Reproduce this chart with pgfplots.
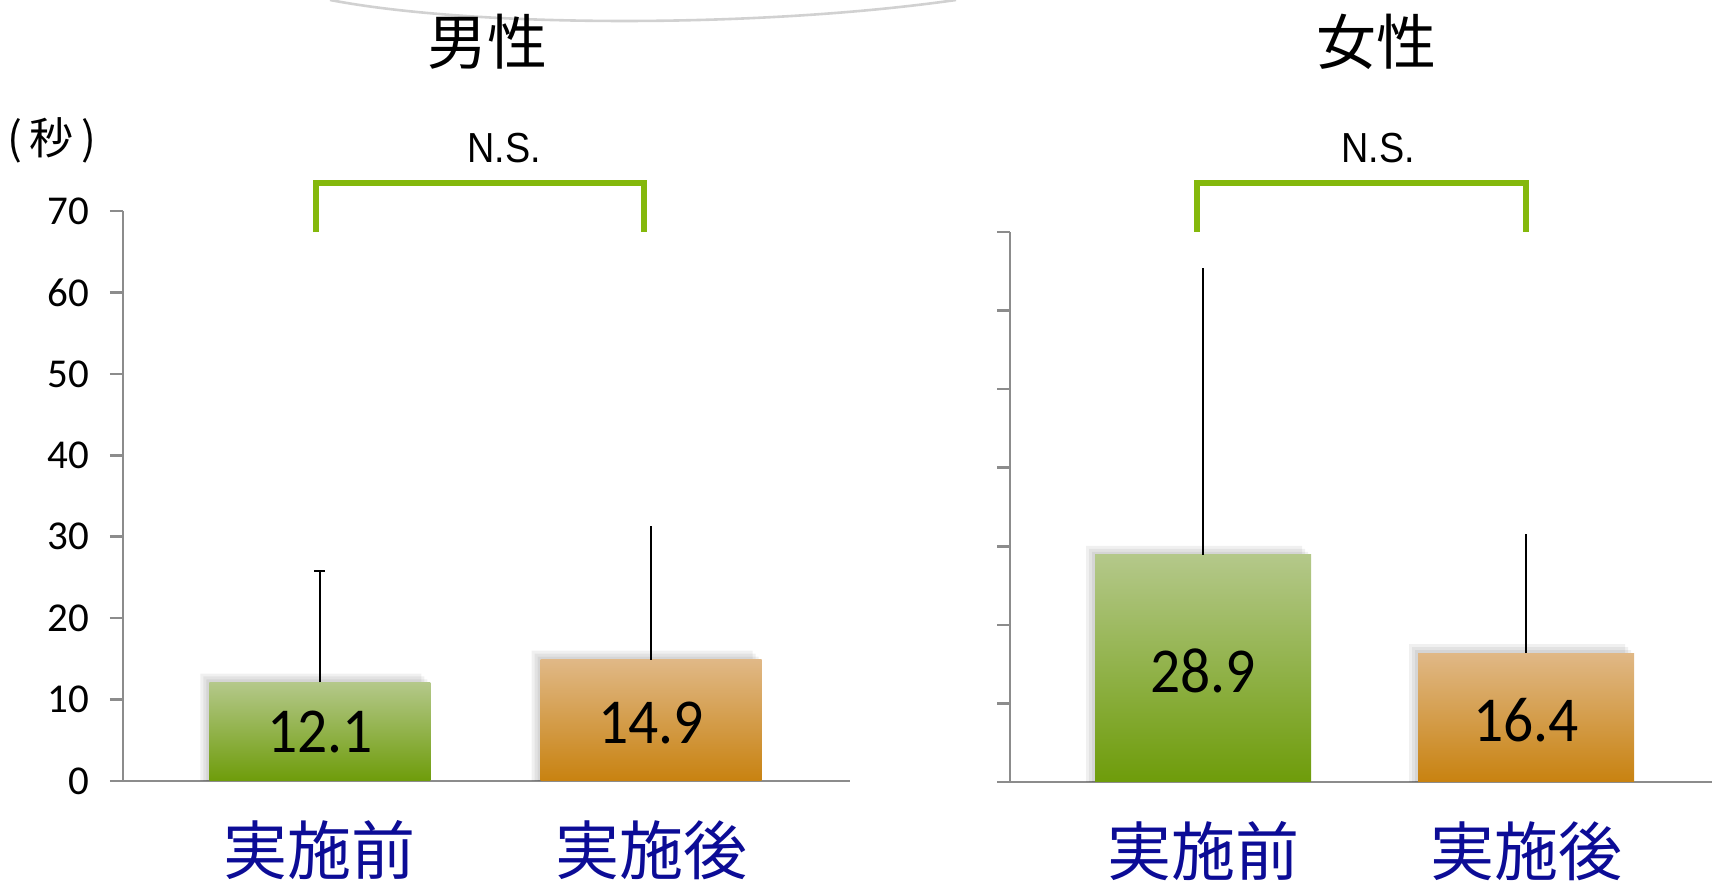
\documentclass[border=0pt]{standalone}
\usepackage{pgfplots}
\pgfplotsset{compat=1.18}
\usepackage{fontspec}
\setmainfont{Carlito}
\newfontfamily\jp{Noto Sans CJK JP}
\newfontfamily\jpp{Noto Sans CJK JP}[CharacterWidth=Proportional]
\newfontfamily\ns{Liberation Sans}[FakeStretch=0.9]
\newfontfamily\vals{Carlito}[FakeStretch=0.93]
\definecolor{gtop}{RGB}{180,200,138}
\definecolor{gbot}{RGB}{110,156,10}
\definecolor{otop}{RGB}{224,184,134}
\definecolor{obot}{RGB}{200,130,16}
\definecolor{brk}{RGB}{132,184,12}
\definecolor{axgray}{RGB}{140,140,140}
\definecolor{navy}{RGB}{12,12,150}
\pgfplotsset{mystyle/.style={
  scale only axis, clip=false,
  axis x line*=bottom, axis y line*=left,
  ymin=0, ymax=70, ytick={0,10,...,70},
  xtick={0,1}, xticklabels={実施前,実施後},
  x tick style={draw=none},
  ytick align=outside, major tick length=6.5pt,
  axis line style={axgray, line width=1.35pt},
  y tick style={axgray, line width=1.35pt},
  /pgf/number format/assume math mode=true,
  yticklabel style={font=\fontsize{20.5}{24}\selectfont, anchor=east, xshift=-7pt},
  xticklabel style={font=\jp\fontsize{32}{38}\selectfont, text=navy, anchor=center, yshift=-34.5pt},
}}
\begin{document}
\begin{tikzpicture}
\path[use as bounding box] (0,0) rectangle (862.5pt,441pt);
% faint decorative arc
\draw[black!18, line width=1.3pt] (165pt,441pt) .. controls (238pt,427pt) and (380pt,427pt) .. (478pt,441pt);

\begin{axis}[mystyle, at={(61.5pt,50.5pt)}, anchor=south west,
  width=363.5pt, height=285pt, xmin=-0.595, xmax=1.601]
% soft shadow layers
\addplot[ybar, bar width=110.5pt, bar shift=-4.5pt, draw=none, fill=black, fill opacity=0.06, forget plot] coordinates {(0,13.2) (1,16.0)};
\addplot[ybar, bar width=110.5pt, bar shift=-3pt, draw=none, fill=black, fill opacity=0.06, forget plot] coordinates {(0,12.84) (1,15.64)};
\addplot[ybar, bar width=110.5pt, bar shift=-1.5pt, draw=none, fill=black, fill opacity=0.06, forget plot] coordinates {(0,12.47) (1,15.27)};
% bars
\addplot[ybar, bar width=110.5pt, bar shift=0pt, draw=none, top color=gtop, bottom color=gbot,
  error bars/.cd, y dir=plus, y explicit,
  error bar style={black, line width=1pt},
  error mark options={black, line width=1pt, mark size=2.75pt, rotate=90}]
  coordinates {(0,12.1) +- (0,13.7)};
\addplot[ybar, bar width=110.5pt, bar shift=0pt, draw=none, top color=otop, bottom color=obot,
  error bars/.cd, y dir=plus, y explicit, error mark=none,
  error bar style={black, line width=1pt}]
  coordinates {(1,14.9) +- (0,16.4)};
\node[font=\vals\fontsize{32}{38}\selectfont] at (axis cs:0,6.08) {12.1};
\node[font=\vals\fontsize{32}{38}\selectfont] at (axis cs:1,7.16) {14.9};
\draw[brk, line width=3pt] (axis cs:-0.012,67.4) -- (axis cs:-0.012,73.4) -- (axis cs:0.979,73.4) -- (axis cs:0.979,67.4);
\end{axis}

\begin{axis}[mystyle, at={(505pt,50pt)}, anchor=south west,
  width=351pt, height=275pt, xmin=-0.598, xmax=1.576, yticklabels={}]
\addplot[ybar, bar width=108pt, bar shift=-4.5pt, draw=none, fill=black, fill opacity=0.06, forget plot] coordinates {(0,30.05) (1,17.55)};
\addplot[ybar, bar width=108pt, bar shift=-3pt, draw=none, fill=black, fill opacity=0.06, forget plot] coordinates {(0,29.66) (1,17.16)};
\addplot[ybar, bar width=108pt, bar shift=-1.5pt, draw=none, fill=black, fill opacity=0.06, forget plot] coordinates {(0,29.28) (1,16.78)};
\addplot[ybar, bar width=108pt, bar shift=0pt, draw=none, top color=gtop, bottom color=gbot,
  error bars/.cd, y dir=plus, y explicit, error mark=none,
  error bar style={black, line width=1pt}]
  coordinates {(0,28.9) +- (0,36.5)};
\addplot[ybar, bar width=108pt, bar shift=0pt, draw=none, top color=otop, bottom color=obot,
  error bars/.cd, y dir=plus, y explicit, error mark=none,
  error bar style={black, line width=1pt}]
  coordinates {(1,16.4) +- (0,15.1)};
\node[font=\vals\fontsize{32}{38}\selectfont] at (axis cs:0,14.1) {28.9};
\node[font=\vals\fontsize{32}{38}\selectfont] at (axis cs:1,7.83) {16.4};
\draw[brk, line width=3pt] (axis cs:-0.019,70.0) -- (axis cs:-0.019,76.2) -- (axis cs:1.0,76.2) -- (axis cs:1.0,70.0);
\end{axis}

% titles and annotations
\node[font=\jp\fontsize{30}{36}\selectfont] at (243.5pt,420pt) {男性};
\node[font=\jp\fontsize{30}{36}\selectfont] at (688pt,420pt) {女性};
\node[font=\jpp\fontsize{22}{26}\selectfont, inner sep=0pt] at (26pt,371pt) {（\kern4pt 秒\kern4pt ）};
\node[font=\ns\fontsize{21}{25}\selectfont] at (252pt,367pt) {N.S.};
\node[font=\ns\fontsize{21}{25}\selectfont] at (689pt,367pt) {N.S.};
\end{tikzpicture}
\end{document}
